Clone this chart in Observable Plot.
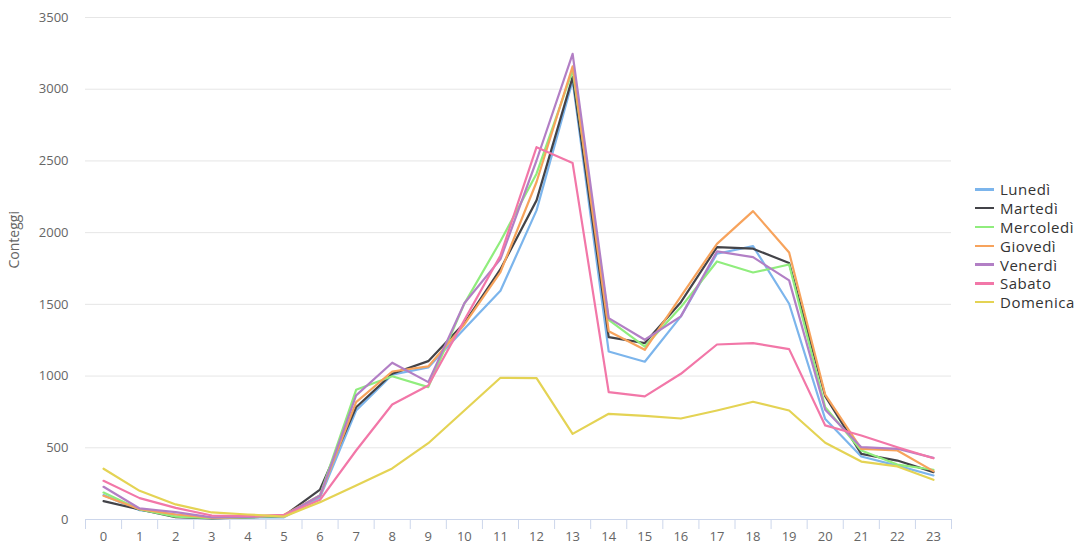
<!DOCTYPE html>
<html><head><meta charset="utf-8">
<script src="https://cdn.jsdelivr.net/npm/d3@7"></script>
<script src="https://cdn.jsdelivr.net/npm/@observablehq/plot@0.6"></script>
<style>
body{margin:0;background:#fff;font-family:"Open Sans",sans-serif;}
#wrap{position:relative;width:1078px;height:544px;overflow:hidden;}
#chart{position:absolute;left:0;top:0;}
#legend{position:absolute;left:975px;top:180px;font-size:15px;color:#333;letter-spacing:0.5px;}
.item{height:18.8px;display:flex;align-items:center;white-space:nowrap;}
.sw{width:19px;height:2.5px;margin-right:6px;}
</style></head><body><div id="wrap"><div id="chart"></div><div id="legend"></div></div>
<script>
const hours = [0,1,2,3,4,5,6,7,8,9,10,11,12,13,14,15,16,17,18,19,20,21,22,23];
const yTicks = [0,500,1000,1500,2000,2500,3000,3500];
const days = ["Lunedì","Martedì","Mercoledì","Giovedì","Venerdì","Sabato","Domenica"];
const colors = ["#7cb5ec","#434348","#90ed7d","#f7a35c","#b27fc5","#f277a8","#e4d354"];

const lunedi    = [170,65,35,10,15,15,155,760,1010,1060,1330,1595,2155,3060,1171,1100,1416,1853,1906,1504,700,439,376,307];
const martedi   = [128,70,16,8,15,25,209,783,1016,1104,1370,1745,2225,3084,1271,1230,1515,1899,1888,1788,860,458,411,330];
const mercoledi = [188,70,20,10,15,25,170,904,999,923,1505,1940,2411,3131,1392,1206,1481,1799,1722,1778,783,481,383,347];
const giovedi   = [165,72,35,12,18,33,165,818,1032,1067,1360,1725,2353,3160,1313,1183,1555,1922,2150,1862,870,493,481,337];
const venerdi   = [228,77,51,15,18,28,167,865,1093,958,1508,1815,2503,3247,1404,1253,1416,1869,1829,1667,765,504,493,430];
const sabato    = [270,149,81,28,25,30,137,481,802,934,1390,1841,2596,2485,888,858,1016,1220,1230,1188,656,586,504,427];
const domenica  = [354,200,105,49,35,20,121,237,356,532,760,988,985,597,737,723,704,760,821,760,535,404,370,277];

const series = [lunedi,martedi,mercoledi,giovedi,venerdi,sabato,domenica];
const rows = [];
series.forEach((vals,i)=>vals.forEach((v,j)=>rows.push({day:days[i],hour:hours[j],value:v})));
const boundaries = hours.map(h=>h-0.5).concat([hours[hours.length-1]+0.5]);

const chart = Plot.plot({
  width:960, height:544,
  marginLeft:85, marginRight:9, marginTop:17, marginBottom:25,
  style:{fontFamily:"Open Sans, sans-serif", fontSize:"13px", color:"#666", background:"#fff", overflow:"visible"},
  x:{domain:[boundaries[0], boundaries[boundaries.length-1]]},
  y:{domain:[0,3500]},
  color:{domain:days, range:colors},
  marks:[
    Plot.gridY(yTicks.slice(1),{stroke:"#e6e6e6", strokeOpacity:1, strokeWidth:1}),
    Plot.axisY({ticks:yTicks, tickSize:0, tickPadding:17, label:null, tickFormat:d=>String(d)}),
    Plot.axisX({ticks:boundaries, tickSize:10, tickFormat:()=>"", stroke:"#ccd6eb", strokeOpacity:1, label:null}),
    Plot.axisX({ticks:hours, tickSize:0, tickPadding:12, label:null, tickFormat:d=>String(d)}),
    Plot.ruleY([0],{stroke:"#ccd6eb", strokeWidth:1}),
    Plot.line(rows,{x:"hour", y:"value", stroke:"day", z:"day", strokeWidth:2.2, curve:"linear"}),
    Plot.text(["Conteggi"],{frameAnchor:"left", dx:-71, rotate:-90, fill:"#666", fontSize:14})
  ]
});
document.getElementById("chart").appendChild(chart);

const lg = document.getElementById("legend");
days.forEach((d,i)=>{
  const it=document.createElement("div"); it.className="item";
  const sw=document.createElement("span"); sw.className="sw"; sw.style.background=colors[i];
  const t=document.createElement("span"); t.textContent=d;
  it.appendChild(sw); it.appendChild(t); lg.appendChild(it);
});
</script></body></html>
